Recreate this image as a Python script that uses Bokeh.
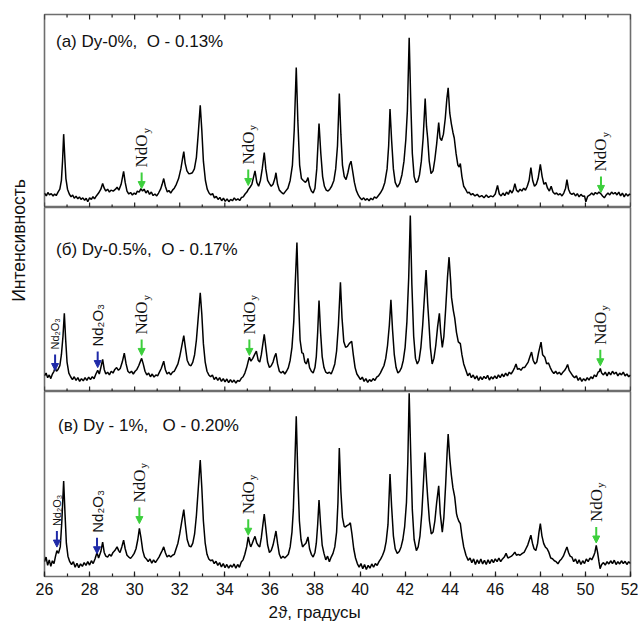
import math
from bokeh.plotting import figure
from bokeh.layouts import column, row
from bokeh.models import (Range1d, LinearAxis, SingleIntervalTicker, Arrow,
                          NormalHead, ColumnDataSource, Label, Title)
from bokeh.embed import file_html
from bokeh.resources import INLINE
from bokeh.core.properties import value

# ---------------- data (2theta, intensity in % of panel height) -------------
pattern_dy0 = [
    (26.00, 7.5), (26.08, 6.0), (26.15, 7.8), (26.22, 6.5), (26.30, 7.2), (26.38, 6.0),
    (26.45, 7.0), (26.52, 6.2), (26.60, 8.0), (26.68, 9.5), (26.75, 14), (26.80, 24),
    (26.85, 38), (26.90, 26), (26.95, 15), (27.02, 9.5), (27.10, 7.0), (27.18, 5.5),
    (27.25, 6.5), (27.32, 4.8), (27.40, 5.8), (27.48, 4.5), (27.55, 5.5), (27.62, 4.2),
    (27.70, 5.0), (27.78, 3.8), (27.85, 4.8), (27.92, 3.0), (28.00, 5.0), (28.08, 4.2),
    (28.15, 5.6), (28.22, 4.5), (28.30, 6.0), (28.40, 7.5), (28.50, 9.5), (28.58, 12.4),
    (28.65, 10.0), (28.72, 8.5), (28.80, 9.5), (28.88, 8.0), (28.95, 9.0), (29.05, 8.5),
    (29.15, 9.5), (29.22, 10.5), (29.30, 9.0), (29.40, 12), (29.51, 18.7), (29.58, 13),
    (29.66, 8.5), (29.74, 7.0), (29.82, 7.8), (29.90, 6.5), (29.98, 7.5), (30.05, 6.8),
    (30.12, 8.5), (30.20, 8.0), (30.28, 9.8), (30.35, 8.5), (30.42, 9.5), (30.50, 7.5),
    (30.58, 8.8), (30.66, 6.8), (30.74, 8.0), (30.82, 6.2), (30.90, 7.0), (30.98, 6.0),
    (31.06, 7.5), (31.15, 9.5), (31.22, 12), (31.29, 15), (31.36, 11), (31.45, 8.0),
    (31.52, 8.8), (31.60, 7.5), (31.68, 9.0), (31.76, 10.0), (31.85, 12), (31.95, 15),
    (32.05, 20), (32.12, 25), (32.18, 29), (32.24, 23), (32.32, 19), (32.40, 17.5),
    (32.48, 17.6), (32.56, 18), (32.65, 20), (32.74, 26), (32.82, 38), (32.91, 53),
    (32.98, 40), (33.05, 24), (33.14, 14), (33.22, 9.5), (33.30, 7.5), (33.38, 6.5),
    (33.46, 7.2), (33.54, 5.0), (33.62, 5.8), (33.70, 4.2), (33.78, 5.2), (33.86, 3.5),
    (33.94, 4.8), (34.02, 3.2), (34.10, 4.5), (34.18, 3.0), (34.26, 4.2), (34.34, 3.5),
    (34.42, 5.0), (34.50, 3.8), (34.58, 4.5), (34.66, 3.6), (34.74, 5.2), (34.82, 5.5),
    (34.90, 7.0), (34.98, 8.0), (35.05, 9.5), (35.12, 10.5), (35.20, 12), (35.28, 16),
    (35.34, 19), (35.42, 13), (35.50, 11), (35.58, 14), (35.66, 20), (35.75, 28.5),
    (35.82, 20), (35.90, 14), (35.98, 12.4), (36.06, 11), (36.14, 12), (36.22, 15),
    (36.27, 18), (36.34, 12), (36.42, 9.0), (36.50, 8.0), (36.60, 7.0), (36.70, 8.5),
    (36.80, 10), (36.90, 14), (37.00, 22), (37.08, 40), (37.17, 72.5), (37.24, 45),
    (37.32, 22), (37.40, 15), (37.48, 14), (37.58, 13), (37.64, 14), (37.69, 15.5),
    (37.76, 11), (37.84, 8.5), (37.92, 7.5), (38.00, 10), (38.08, 20), (38.18, 43.5),
    (38.26, 28), (38.34, 16), (38.42, 11), (38.50, 9.0), (38.58, 8.5), (38.66, 9.5),
    (38.74, 11), (38.84, 14), (38.92, 20), (39.00, 32), (39.08, 59), (39.15, 38),
    (39.22, 22), (39.30, 16), (39.38, 14.5), (39.46, 18), (39.53, 22), (39.60, 24),
    (39.67, 19), (39.75, 13), (39.83, 9), (39.92, 6.5), (40.00, 5.0), (40.08, 4.0),
    (40.16, 5.0), (40.24, 3.8), (40.32, 4.6), (40.40, 3.5), (40.48, 4.8), (40.56, 4.0),
    (40.64, 5.5), (40.72, 4.8), (40.80, 6.0), (40.90, 7.5), (41.00, 9.5), (41.10, 13),
    (41.20, 20), (41.27, 32), (41.33, 51), (41.40, 35), (41.48, 20), (41.56, 13),
    (41.66, 10.5), (41.76, 12.5), (41.86, 17), (41.95, 24), (42.03, 35), (42.10, 50),
    (42.18, 88), (42.25, 55), (42.32, 28), (42.40, 16), (42.48, 13), (42.56, 13.5),
    (42.64, 17), (42.72, 24), (42.80, 36), (42.89, 56.5), (42.95, 42), (43.00, 36),
    (43.07, 24), (43.15, 17.6), (43.24, 19), (43.32, 25), (43.40, 33), (43.49, 44),
    (43.55, 36), (43.62, 34.7), (43.70, 38), (43.78, 46), (43.85, 56), (43.91, 62),
    (43.98, 49), (44.05, 43.5), (44.12, 39), (44.18, 36), (44.26, 28), (44.34, 22),
    (44.40, 21), (44.45, 22.8), (44.52, 16), (44.60, 11), (44.68, 9.5), (44.77, 7.5),
    (44.84, 8.0), (44.92, 6.5), (45.00, 7.2), (45.10, 6.0), (45.20, 6.8), (45.30, 5.5),
    (45.40, 6.2), (45.50, 5.0), (45.60, 6.5), (45.70, 5.2), (45.80, 6.0), (45.90, 5.5),
    (46.00, 7.0), (46.10, 11.4), (46.18, 7.0), (46.26, 6.0), (46.34, 7.5), (46.42, 6.2),
    (46.50, 8.0), (46.58, 6.8), (46.66, 9.0), (46.74, 7.5), (46.80, 9.0), (46.87, 12.4),
    (46.94, 9.0), (47.02, 8.0), (47.10, 9.5), (47.18, 8.5), (47.26, 10), (47.34, 9.0),
    (47.42, 11), (47.50, 14), (47.58, 20.7), (47.66, 14), (47.74, 11), (47.82, 12),
    (47.90, 15), (48.00, 22.3), (48.08, 16), (48.16, 12), (48.24, 13), (48.32, 10),
    (48.40, 8.5), (48.48, 11), (48.56, 8.0), (48.64, 7.0), (48.72, 7.5), (48.80, 6.5),
    (48.88, 7.2), (48.96, 6.0), (49.04, 7.5), (49.12, 10), (49.18, 14.5), (49.25, 9.5),
    (49.32, 7.5), (49.40, 6.8), (49.48, 7.5), (49.56, 6.0), (49.64, 7.2), (49.72, 5.5),
    (49.80, 6.8), (49.88, 5.8), (49.96, 6.0), (50.02, 3.0), (50.10, 5.8), (50.20, 6.5),
    (50.28, 7.5), (50.36, 6.5), (50.44, 7.8), (50.52, 7.0), (50.60, 8.0), (50.68, 7.2),
    (50.76, 6.0), (50.84, 5.0), (50.92, 6.5), (51.00, 7.5), (51.08, 6.5), (51.16, 8.0),
    (51.24, 7.0), (51.32, 7.8), (51.40, 6.5), (51.48, 8.0), (51.56, 6.0), (51.64, 7.5),
    (51.72, 5.5), (51.80, 7.2), (51.88, 6.0), (51.96, 7.0), (52.00, 6.5),
]

pattern_dy05 = [
    (26.00, 8.5), (26.07, 10), (26.14, 7.5), (26.21, 9.0), (26.28, 7.0), (26.35, 9.5),
    (26.42, 11), (26.47, 13), (26.53, 11), (26.60, 12), (26.68, 14), (26.75, 20),
    (26.82, 30), (26.88, 42.5), (26.94, 28), (27.00, 16), (27.08, 10), (27.16, 8.0),
    (27.24, 6.5), (27.32, 8.0), (27.40, 6.0), (27.48, 7.5), (27.56, 5.5), (27.64, 7.0),
    (27.72, 5.8), (27.80, 7.5), (27.88, 6.0), (27.96, 7.8), (28.04, 6.5), (28.12, 8.0),
    (28.20, 7.0), (28.28, 9.5), (28.36, 11.5), (28.43, 9.5), (28.50, 13), (28.58, 17.4),
    (28.65, 12), (28.72, 9.5), (28.80, 10.5), (28.88, 9.0), (28.96, 11), (29.04, 10),
    (29.12, 12), (29.20, 13), (29.28, 11.5), (29.36, 12.5), (29.45, 16), (29.54, 20.8),
    (29.62, 15), (29.70, 11), (29.78, 10), (29.86, 11), (29.94, 9.5), (30.02, 11),
    (30.10, 12), (30.18, 14), (30.26, 16.5), (30.31, 18), (30.38, 15), (30.46, 11),
    (30.54, 9.0), (30.62, 10), (30.70, 8.0), (30.78, 9.5), (30.86, 7.8), (30.94, 9.0),
    (31.02, 8.5), (31.10, 10.5), (31.18, 12.5), (31.29, 16.5), (31.36, 12), (31.44, 9.5),
    (31.52, 10.5), (31.60, 9.0), (31.68, 10.5), (31.76, 11), (31.84, 13), (31.92, 15),
    (32.00, 19), (32.08, 24), (32.18, 30.4), (32.25, 24), (32.33, 17), (32.42, 14.5),
    (32.50, 14), (32.58, 16), (32.66, 20), (32.74, 28), (32.82, 40), (32.91, 53.6),
    (32.98, 42), (33.05, 26), (33.13, 16), (33.21, 11), (33.29, 9.0), (33.37, 8.0),
    (33.45, 9.0), (33.53, 6.5), (33.61, 7.8), (33.69, 6.0), (33.77, 7.5), (33.85, 5.5),
    (33.93, 7.0), (34.01, 5.2), (34.09, 6.8), (34.17, 4.8), (34.25, 6.5), (34.33, 5.0),
    (34.41, 6.2), (34.49, 4.6), (34.57, 6.0), (34.65, 5.5), (34.73, 7.2), (34.81, 8.0),
    (34.89, 10), (34.97, 13), (35.03, 16), (35.09, 18.6), (35.16, 16.5), (35.24, 18),
    (35.32, 20), (35.40, 21.9), (35.48, 17), (35.55, 16), (35.62, 20), (35.69, 26),
    (35.75, 31), (35.82, 24), (35.90, 16), (35.98, 13), (36.06, 14), (36.14, 16),
    (36.21, 19), (36.27, 20.7), (36.34, 15), (36.42, 11), (36.50, 10), (36.58, 11),
    (36.66, 9.5), (36.74, 11), (36.82, 13), (36.90, 17), (36.98, 24), (37.06, 38),
    (37.13, 60), (37.20, 81), (37.27, 50), (37.34, 28), (37.42, 21), (37.48, 20.7),
    (37.55, 16), (37.62, 15), (37.69, 18), (37.76, 13), (37.84, 11), (37.92, 10),
    (38.00, 13), (38.06, 19), (38.12, 32), (38.18, 49.5), (38.25, 32), (38.32, 19),
    (38.40, 13), (38.48, 10.5), (38.56, 9.8), (38.64, 10.5), (38.72, 9.5), (38.80, 12),
    (38.88, 15), (38.96, 22), (39.04, 36), (39.13, 59.4), (39.20, 40), (39.28, 27),
    (39.36, 24), (39.44, 24.5), (39.52, 26), (39.63, 27.3), (39.70, 20), (39.78, 13),
    (39.86, 9.5), (39.94, 8.0), (40.02, 6.5), (40.10, 7.8), (40.18, 5.5), (40.26, 7.0),
    (40.34, 5.0), (40.42, 6.5), (40.50, 5.5), (40.58, 7.0), (40.66, 6.0), (40.74, 7.8),
    (40.82, 8.5), (40.90, 10), (40.98, 12), (41.06, 14), (41.14, 18), (41.22, 25),
    (41.30, 36), (41.37, 49.8), (41.44, 34), (41.52, 20), (41.60, 13), (41.68, 10),
    (41.76, 11), (41.84, 13), (41.92, 17), (42.00, 24), (42.08, 38), (42.16, 62),
    (42.23, 95.7), (42.30, 58), (42.38, 30), (42.46, 18), (42.54, 15), (42.62, 17),
    (42.70, 24), (42.78, 36), (42.86, 52), (42.93, 66), (43.00, 48), (43.05, 38.6),
    (43.12, 24), (43.20, 15), (43.28, 18), (43.36, 25), (43.44, 35), (43.52, 42.5),
    (43.58, 32), (43.65, 24), (43.72, 30), (43.80, 45), (43.88, 62), (43.95, 73),
    (44.02, 60), (44.06, 51), (44.14, 44), (44.20, 40), (44.28, 32), (44.36, 27),
    (44.45, 26), (44.52, 20), (44.60, 15), (44.70, 11.4), (44.78, 8.5), (44.86, 10),
    (44.94, 7.5), (45.02, 9.0), (45.10, 6.8), (45.18, 8.5), (45.26, 6.0), (45.34, 8.0),
    (45.42, 6.5), (45.50, 8.2), (45.58, 7.0), (45.66, 8.8), (45.74, 6.2), (45.82, 8.0),
    (45.90, 6.8), (45.98, 8.5), (46.06, 7.0), (46.14, 9.0), (46.22, 7.5), (46.30, 9.5),
    (46.38, 8.0), (46.46, 10), (46.54, 8.5), (46.62, 10.5), (46.70, 9.5), (46.78, 11),
    (46.86, 13), (46.92, 15), (46.99, 12), (47.06, 12.5), (47.14, 11.5), (47.22, 13),
    (47.30, 13), (47.38, 14.5), (47.46, 16), (47.54, 19), (47.61, 21.4), (47.68, 17),
    (47.76, 15), (47.84, 16), (47.92, 21), (48.03, 26.8), (48.10, 20), (48.20, 18.6),
    (48.28, 15), (48.36, 15.5), (48.44, 13), (48.52, 11), (48.60, 9.8), (48.68, 11),
    (48.76, 9.5), (48.84, 10.5), (48.92, 9.0), (49.00, 10.5), (49.08, 11.5), (49.15, 13),
    (49.21, 14.7), (49.28, 11.5), (49.36, 10), (49.44, 8.5), (49.52, 7.5), (49.60, 8.5),
    (49.68, 6.0), (49.76, 7.5), (49.84, 5.5), (49.92, 7.0), (50.00, 5.8), (50.08, 7.5),
    (50.16, 6.2), (50.24, 8.0), (50.32, 7.0), (50.40, 9.0), (50.48, 8.0), (50.56, 10.5),
    (50.62, 11), (50.66, 12.5), (50.72, 10), (50.80, 9.0), (50.88, 10.5), (50.96, 8.5),
    (51.04, 10.5), (51.12, 9.0), (51.20, 11), (51.28, 9.5), (51.36, 10.5), (51.44, 8.5),
    (51.52, 10), (51.60, 9.0), (51.68, 10.5), (51.76, 8.5), (51.84, 9.5), (51.92, 8.0),
    (52.00, 9.0),
]

pattern_dy1 = [
    (26.00, 8.0), (26.07, 10.5), (26.14, 6.0), (26.21, 9.0), (26.28, 5.5), (26.35, 8.5),
    (26.42, 7.0), (26.49, 11), (26.55, 14), (26.62, 12.5), (26.70, 16), (26.77, 30),
    (26.85, 51.6), (26.91, 34), (26.97, 18), (27.04, 11), (27.12, 8.0), (27.20, 6.5),
    (27.28, 8.0), (27.36, 5.0), (27.44, 7.2), (27.52, 4.8), (27.60, 6.8), (27.68, 5.5),
    (27.76, 7.5), (27.84, 6.0), (27.92, 8.0), (28.00, 6.2), (28.08, 8.5), (28.16, 7.0),
    (28.24, 9.5), (28.33, 13), (28.40, 10), (28.50, 13.5), (28.58, 18.6), (28.65, 13),
    (28.72, 11), (28.80, 10.5), (28.88, 12), (28.96, 11), (29.04, 13), (29.12, 14),
    (29.22, 16), (29.29, 14), (29.35, 13), (29.43, 16), (29.51, 19.6), (29.58, 15),
    (29.66, 11.5), (29.74, 10.5), (29.82, 9.8), (29.90, 11), (29.98, 12.5), (30.06, 15),
    (30.14, 20), (30.21, 26), (30.28, 21), (30.36, 14), (30.44, 10.5), (30.52, 9.5),
    (30.60, 8.0), (30.68, 9.5), (30.76, 7.2), (30.84, 9.0), (30.92, 7.5), (31.00, 9.0),
    (31.08, 10.5), (31.16, 12.5), (31.22, 14), (31.29, 16), (31.36, 13), (31.44, 10.5),
    (31.52, 11.5), (31.60, 10.5), (31.68, 11.5), (31.76, 12), (31.84, 15), (31.92, 18),
    (32.00, 23), (32.08, 29), (32.18, 36.2), (32.25, 28), (32.33, 20), (32.42, 16.5),
    (32.50, 16), (32.58, 18), (32.66, 23), (32.74, 33), (32.82, 47), (32.91, 63),
    (32.98, 48), (33.05, 30), (33.13, 18), (33.21, 12), (33.29, 9.5), (33.37, 8.5),
    (33.45, 9.0), (33.53, 7.0), (33.61, 8.2), (33.69, 6.0), (33.77, 7.5), (33.85, 5.2),
    (33.93, 7.0), (34.01, 4.8), (34.09, 6.5), (34.17, 4.5), (34.25, 6.2), (34.33, 5.0),
    (34.41, 6.8), (34.49, 4.5), (34.57, 6.5), (34.65, 5.0), (34.73, 7.8), (34.81, 9.0),
    (34.89, 12), (34.97, 16), (35.04, 21.4), (35.10, 18), (35.15, 16), (35.22, 18),
    (35.28, 20), (35.34, 21.7), (35.42, 18), (35.50, 16.5), (35.55, 16), (35.62, 21),
    (35.69, 28), (35.75, 33.7), (35.82, 26), (35.90, 17), (35.98, 13), (36.06, 14),
    (36.14, 17), (36.21, 21), (36.27, 24.6), (36.34, 18), (36.42, 12), (36.50, 9.8),
    (36.58, 11), (36.66, 10), (36.74, 11), (36.82, 12), (36.90, 16), (36.98, 24),
    (37.04, 36), (37.10, 58), (37.17, 86.6), (37.24, 54), (37.31, 30), (37.38, 20),
    (37.45, 16), (37.52, 17), (37.60, 18), (37.69, 21.4), (37.76, 15), (37.84, 12),
    (37.92, 10.5), (38.00, 13), (38.06, 18), (38.12, 28), (38.18, 41.3), (38.25, 28),
    (38.32, 17), (38.40, 12.5), (38.48, 9.0), (38.56, 11), (38.64, 8.0), (38.72, 10.5),
    (38.80, 12.5), (38.88, 16), (38.96, 24), (39.02, 40), (39.08, 69.4), (39.15, 46),
    (39.22, 32), (39.30, 27), (39.35, 26.8), (39.42, 27.5), (39.50, 28), (39.57, 29),
    (39.64, 23), (39.72, 15), (39.80, 10), (39.88, 7.0), (39.96, 5.0), (40.04, 7.0),
    (40.12, 4.2), (40.20, 6.5), (40.28, 3.8), (40.36, 6.0), (40.44, 4.5), (40.52, 6.8),
    (40.60, 5.0), (40.68, 7.0), (40.76, 6.0), (40.84, 8.0), (40.92, 9.5), (41.00, 11.5),
    (41.08, 14), (41.16, 19), (41.24, 28), (41.33, 55.4), (41.40, 38), (41.48, 22),
    (41.56, 15), (41.65, 12.5), (41.74, 13.5), (41.82, 16), (41.90, 20), (41.98, 27),
    (42.06, 40), (42.12, 62), (42.18, 99), (42.25, 66), (42.32, 36), (42.40, 20),
    (42.50, 14), (42.58, 16), (42.66, 22), (42.74, 34), (42.81, 50), (42.88, 67),
    (42.95, 52), (43.00, 43), (43.08, 30), (43.16, 23), (43.24, 24), (43.32, 30),
    (43.40, 40), (43.49, 49), (43.56, 34), (43.65, 24), (43.72, 32), (43.80, 50),
    (43.86, 66), (43.91, 77), (43.98, 64), (44.05, 55), (44.12, 48), (44.20, 43),
    (44.28, 34), (44.32, 32), (44.38, 30), (44.45, 28.6), (44.52, 22), (44.60, 16),
    (44.70, 11.5), (44.80, 8.7), (44.88, 10), (44.96, 7.5), (45.04, 9.5), (45.12, 6.5),
    (45.20, 9.0), (45.28, 7.0), (45.36, 9.5), (45.44, 6.8), (45.52, 8.8), (45.60, 6.5),
    (45.68, 9.0), (45.76, 7.0), (45.84, 9.2), (45.92, 7.5), (46.00, 9.5), (46.08, 8.0),
    (46.16, 10), (46.24, 8.0), (46.32, 9.5), (46.40, 10.5), (46.48, 12.5), (46.56, 10),
    (46.64, 10.5), (46.72, 11), (46.80, 12), (46.87, 13.2), (46.94, 11.5), (47.02, 12),
    (47.10, 11.5), (47.20, 12.5), (47.28, 13), (47.36, 15), (47.44, 17), (47.52, 20),
    (47.58, 22.3), (47.65, 18), (47.72, 15), (47.80, 14), (47.88, 18), (47.94, 24),
    (48.00, 28.6), (48.07, 22), (48.15, 17.8), (48.22, 16), (48.30, 15), (48.38, 13),
    (48.46, 10), (48.54, 9.6), (48.62, 8.5), (48.70, 8.0), (48.78, 6.9), (48.86, 8.5),
    (48.94, 9.5), (49.02, 11), (49.10, 13.5), (49.18, 16), (49.25, 13), (49.32, 11),
    (49.40, 10.5), (49.48, 8.0), (49.56, 9.5), (49.64, 7.0), (49.72, 9.0), (49.80, 6.5),
    (49.88, 8.5), (49.96, 7.0), (50.04, 9.5), (50.12, 8.0), (50.20, 10), (50.28, 9.0),
    (50.36, 11), (50.42, 13), (50.48, 16.8), (50.54, 13), (50.60, 8.0), (50.65, 4.2),
    (50.72, 6.5), (50.80, 7.5), (50.88, 6.2), (50.96, 8.0), (51.04, 6.8), (51.12, 8.5),
    (51.20, 7.0), (51.28, 8.8), (51.36, 6.5), (51.44, 8.0), (51.52, 6.8), (51.60, 8.5),
    (51.68, 7.0), (51.76, 8.2), (51.84, 6.5), (51.92, 8.0), (52.00, 7.0),
]

panel_titles = ["(а) Dy-0%,\u00a0 O - 0.13%",
                "(б) Dy-0.5%,\u00a0 O - 0.17%",
                "(в) Dy - 1%,\u00a0\u00a0 O - 0.20%"]

# phase markers: 2theta position, intensity at the arrow tip, phase
markers_dy0_x = [30.31, 35.04, 50.69]
markers_dy0_tip = [9.8, 11.4, 7.8]
markers_dy0_phase = ["NdOy", "NdOy", "NdOy"]

markers_dy05_x = [26.47, 28.36, 30.31, 35.09, 50.66]
markers_dy05_tip = [11.4, 13.0, 19.6, 19.6, 14.0]
markers_dy05_phase = ["Nd2O3", "Nd2O3", "NdOy", "NdOy", "NdOy"]

markers_dy1_x = [26.55, 28.33, 30.21, 35.04, 50.48]
markers_dy1_tip = [15.9, 12.3, 28.6, 22.3, 18.1]
markers_dy1_phase = ["Nd2O3", "Nd2O3", "NdOy", "NdOy", "NdOy"]

major_ticks = [26, 28, 30, 32, 34, 36, 38, 40, 42, 44, 46, 48, 50, 52]
minor_ticks = [27, 29, 31, 33, 35, 37, 39, 41, 43, 45, 47, 49, 51]
x_label = "2ϑ, градусы"
y_label = "Интенсивность"

# ---------------- layout / style -------------------------------------------
SANS = "Liberation Sans"
SERIF = "Liberation Serif"
FRAME_COLOR = "#6e6e6e"
TICK_COLOR = "#222222"
GREEN = "#3ccf3c"
BLUE = "#1f2aa8"
LABEL_W = 34
PANEL_W = 604
ML, MR = 10, 8
HEIGHTS = [207, 184, 234]
TOPS = [14, 0, 0]
BOTTOMS = [0, 0, 49]
ARROW_PX = 16
GAP_PX = 5

x_range = Range1d(26, 52)


def add_inner_ticks(p, yval):
    # tick marks drawn on a frame edge; the frame clip keeps only the inner half
    p.scatter(major_ticks, [yval] * len(major_ticks), marker="dash", angle=math.pi / 2,
              size=10, line_color=TICK_COLOR, line_width=1.2)
    p.scatter(minor_ticks, [yval] * len(minor_ticks), marker="dash", angle=math.pi / 2,
              size=6, line_color=TICK_COLOR, line_width=1.2)


def make_panel(i, pattern, mx, mtip, mphase):
    h = HEIGHTS[i]
    frame_h = h - TOPS[i] - BOTTOMS[i]
    px_per_unit = frame_h / 100.0
    p = figure(width=PANEL_W, height=h, x_range=x_range, y_range=Range1d(0, 100),
               output_backend="svg", toolbar_location=None,
               x_axis_location=None, y_axis_location=None,
               min_border_left=ML, min_border_right=MR,
               min_border_top=TOPS[i], min_border_bottom=BOTTOMS[i])
    p.grid.visible = False
    p.outline_line_color = FRAME_COLOR
    p.outline_line_width = 1.6
    p.background_fill_color = "white"
    p.border_fill_color = "white"

    if i == 0:
        add_inner_ticks(p, 100)
    if i < 2:
        add_inner_ticks(p, 0)
    else:
        ax = LinearAxis(ticker=SingleIntervalTicker(interval=2, num_minor_ticks=2),
                        major_tick_in=5, major_tick_out=0, minor_tick_in=3,
                        minor_tick_out=0, axis_line_color=None,
                        major_tick_line_color=TICK_COLOR, minor_tick_line_color=TICK_COLOR,
                        major_tick_line_width=1.2, minor_tick_line_width=1.2,
                        major_label_text_font=SANS, major_label_text_font_size="16px",
                        major_label_text_color="#111111", major_label_standoff=6)
        p.add_layout(ax, "below")
        p.add_layout(Title(text=x_label, align="left", offset=224,
                           text_font=SANS, text_font_size="17px",
                           text_font_style="normal", text_color="#111111",
                           standoff=7), "below")

    xs = [pt[0] for pt in pattern]
    ys = [pt[1] for pt in pattern]
    p.line(xs, ys, line_color="black", line_width=1.5)

    # title
    p.add_layout(Label(x=26.51 if i < 2 else 26.6,
                       y=[86.2, 77.0, 81.5][i],
                       text=panel_titles[i], text_font=SANS, text_font_size="17px",
                       text_baseline="middle", text_color="#111111"))

    # markers
    L = ARROW_PX / px_per_unit
    for phase, color in (("NdOy", GREEN), ("Nd2O3", BLUE)):
        idx = [k for k, ph in enumerate(mphase) if ph == phase]
        if not idx:
            continue
        src = ColumnDataSource(dict(x=[mx[k] for k in idx],
                                    tip=[mtip[k] for k in idx],
                                    top=[mtip[k] + L for k in idx]))
        p.add_layout(Arrow(end=NormalHead(size=7, fill_color=color, line_color=color),
                           line_color=color, line_width=2,
                           x_start="x", y_start="top", x_end="x", y_end="tip",
                           source=src))
        if phase == "NdOy":
            p.text(x="x", y="top", text=value("NdO"), source=src, angle=math.pi / 2,
                   text_align="left", text_baseline="middle", y_offset=-GAP_PX,
                   text_font=value(SERIF), text_font_size="17px", text_color="#111111")
            p.text(x="x", y="top", text=value("y"), source=src, angle=math.pi / 2,
                   text_align="left", text_baseline="middle", y_offset=-(GAP_PX + 34),
                   x_offset=4, text_font=value(SERIF), text_font_size="11px",
                   text_color="#111111")
        else:
            small = dict(x=[], top=[])
            large = dict(x=[], top=[])
            for k in idx:
                tgt = small if mx[k] < 27 else large
                tgt["x"].append(mx[k])
                tgt["top"].append(mtip[k] + L)
            for d, fs in ((small, "11px"), (large, "15px")):
                if d["x"]:
                    p.text(x="x", y="top", text=value("Nd₂O₃"),
                           source=ColumnDataSource(d), angle=math.pi / 2,
                           text_align="left", text_baseline="middle",
                           y_offset=-GAP_PX, text_font=value(SANS),
                           text_font_size=fs, text_color="#111111")
    return p


f1 = make_panel(0, pattern_dy0, markers_dy0_x, markers_dy0_tip, markers_dy0_phase)
f2 = make_panel(1, pattern_dy05, markers_dy05_x, markers_dy05_tip, markers_dy05_phase)
f3 = make_panel(2, pattern_dy1, markers_dy1_x, markers_dy1_tip, markers_dy1_phase)

total_h = sum(HEIGHTS)
lab = figure(width=LABEL_W, height=total_h, x_range=Range1d(0, LABEL_W),
             y_range=Range1d(0, total_h), output_backend="svg", toolbar_location=None,
             x_axis_location=None, y_axis_location=None,
             min_border_left=0, min_border_right=0, min_border_top=0, min_border_bottom=0)
lab.grid.visible = False
lab.outline_line_color = None
lab.text(x=[18], y=[total_h - 240], text=[y_label], angle=math.pi / 2,
         text_align="center", text_baseline="middle", text_font=value(SANS),
         text_font_size="17.5px", text_color="#111111")

layout = row(lab, column(f1, f2, f3, spacing=0), spacing=0)

open("out.html", "w").write(file_html(layout, INLINE))
